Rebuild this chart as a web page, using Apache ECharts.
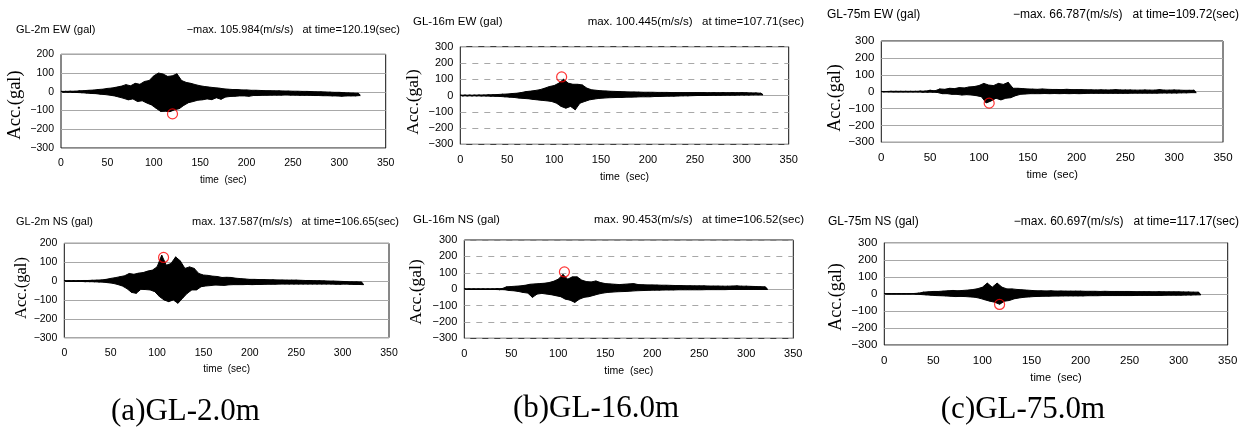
<!DOCTYPE html>
<html>
<head>
<meta charset="utf-8">
<script src="https://cdn.jsdelivr.net/npm/echarts@6/dist/echarts.min.js"></script>
<style>html,body{margin:0;padding:0;background:#fff}#c{width:1248px;height:430px}</style>
</head>
<body>
<div id="c"></div>
<script>
// time bins (sec)
var TIMES = [0,5,10,15,20,25,30,35,40,45,50,55,60,65,70,75,80,85,90,95,100,105,110,115,120,125,130,135,140,145,150,155,160,165,170,175,180,185,190,195,200,205,210,215,220,225,230,235,240,245,250,255,260,265,270,275,280,285,290,295,300,305,310,315,320];
var X_TICKS = [0,50,100,150,200,250,300,350];
var Y_TICKS_A = [-300,-200,-100,0,100,200];
var Y_TICKS_BC = [-300,-200,-100,0,100,200,300];

// envelope (upper / lower, gal) read from the records
var aEW_up = [2,2,3,3,5,6,8,9,12,14,18,20,25,30,38,32,45,40,55,60,85,100,95,82,85,96,60,50,45,38,32,28,25,22,20,16,14,12,12,10,10,8,8,7,6,6,5,5,4,4,3,3,2,2,1,0,0,-1,-2,-3,-3,-5,-6,-7,-8];
var aEW_lo = [-2,-2,-3,-4,-5,-7,-9,-10,-13,-15,-18,-22,-28,-35,-43,-38,-52,-48,-60,-70,-88,-105,-104,-106,-96,-90,-72,-58,-52,-45,-43,-38,-42,-32,-40,-28,-25,-24,-22,-22,-24,-20,-20,-19,-19,-18,-18,-18,-17,-18,-18,-19,-19,-19,-20,-20,-21,-21,-22,-22,-24,-22,-22,-22,-20];
var aNS_up = [2,2,2,2,3,3,4,5,6,9,14,18,23,28,40,36,42,45,53,58,75,137,84,93,128,107,67,75,67,40,32,30,26,24,19,20,19,15,13,11,9,9,8,8,7,7,6,6,5,5,5,4,3,3,2,2,1,0,0,-1,-2,-3,-4,-4,-5];
var aNS_lo = [-2,-2,-2,-2,-3,-3,-4,-5,-6,-9,-12,-18,-26,-40,-60,-65,-44,-45,-47,-56,-82,-100,-109,-100,-118,-91,-65,-47,-47,-30,-26,-24,-21,-22,-23,-20,-19,-19,-19,-18,-19,-18,-18,-17,-17,-17,-16,-16,-16,-16,-16,-16,-16,-16,-16,-16,-16,-16,-17,-17,-16,-17,-18,-18,-19];
var bEW_up = [2,2,2,2,3,3,4,5,6,8,9,12,14,18,24,27,31,36,45,55,61,76,100,76,69,69,65,45,35,32,29,28,26,25,24,23,22,22,21,20,20,20,19,19,19,18,18,18,18,18,18,18,18,17,18,17,18,17,18,17,18,17,16,16,14];
var bEW_lo = [-2,-2,-2,-2,-3,-3,-4,-5,-6,-8,-10,-12,-16,-18,-20,-24,-27,-30,-33,-37,-47,-67,-78,-67,-88,-47,-37,-27,-22,-18,-16,-14,-13,-12,-12,-10,-10,-9,-8,-8,-8,-6,-6,-5,-4,-4,-3,-2,-2,-1,0,0,0,1,1,1,2,2,2,3,3,3,4,4,4];
var bNS_up = [2,2,2,2,2,2,2,3,3,14,16,18,20,24,30,32,34,36,40,48,61,90,61,75,75,55,46,44,50,40,34,32,30,28,30,32,34,28,27,26,26,25,24,24,23,22,22,21,21,20,20,20,19,19,19,18,18,19,20,18,18,17,16,15,14];
var bNS_lo = [-2,-2,-2,-2,-2,-2,-2,-3,-3,-8,-10,-14,-20,-24,-50,-30,-26,-30,-34,-40,-46,-61,-67,-81,-61,-50,-46,-38,-30,-24,-20,-18,-16,-15,-14,-12,-10,-9,-8,-7,-6,-6,-5,-5,-5,-4,-4,-4,-4,-4,-4,-3,-3,-3,-3,-3,-2,-2,-2,-2,-2,-2,-2,-2,-2];
var cEW_up = [1,1,2,2,2,2,2,2,3,3,8,5,16,14,20,18,24,22,28,30,36,49,39,36,49,43,55,20,20,18,16,15,14,16,14,13,13,12,14,12,12,12,11,11,10,11,10,10,12,10,10,10,9,9,10,9,9,12,9,9,10,9,8,8,8];
var cEW_lo = [-1,-1,-2,-2,-2,-2,-2,-2,-3,-3,-3,-5,-12,-12,-16,-16,-20,-18,-20,-24,-30,-67,-55,-39,-49,-39,-36,-24,-16,-14,-12,-12,-12,-11,-12,-11,-12,-11,-12,-11,-12,-11,-10,-10,-10,-10,-10,-10,-10,-10,-10,-9,-9,-9,-9,-9,-9,-8,-8,-8,-8,-7,-7,-6,-6];
var cNS_up = [1,1,1,1,1,1,2,4,10,12,14,14,16,18,20,18,20,22,25,30,39,63,39,63,39,29,29,26,24,22,20,18,18,17,18,16,17,16,16,16,16,15,15,15,14,15,14,14,14,14,14,13,13,13,13,12,13,12,12,12,12,11,11,10,10];
var cNS_lo = [-1,-1,-1,-1,-1,-1,-2,-4,-6,-8,-10,-11,-12,-14,-16,-15,-16,-18,-20,-26,-35,-43,-49,-61,-43,-39,-29,-24,-20,-18,-16,-15,-14,-14,-13,-13,-12,-12,-12,-12,-12,-11,-11,-11,-10,-10,-10,-10,-10,-10,-10,-9,-9,-9,-9,-9,-9,-8,-8,-8,-8,-7,-7,-6,-6];

// circled peaks [time, value] as drawn
var aEW_peak = [120.19, -118];
var aNS_peak = [107.0, 125];
var bEW_peak = [108.0, 114];
var bNS_peak = [106.5, 105];
var cEW_peak = [110.5, -68];
var cNS_peak = [117.5, -62];

var TITLES = ['GL-2m EW (gal)','GL-2m NS (gal)','GL-16m EW (gal)','GL-16m NS (gal)','GL-75m EW (gal)','GL-75m NS (gal)'];
var MAXTEXT = ['\u2212max. 105.984(m/s/s)   at time=120.19(sec)','max. 137.587(m/s/s)   at time=106.65(sec)',
  'max. 100.445(m/s/s)   at time=107.71(sec)','max. 90.453(m/s/s)   at time=106.52(sec)',
  '\u2212max. 66.787(m/s/s)   at time=109.72(sec)','\u2212max. 60.697(m/s/s)   at time=117.17(sec)'];
var CAPTIONS = ['(a)GL-2.0m','(b)GL-16.0m','(c)GL-75.0m'];

var panels = [
  {up:aEW_up, lo:aEW_lo, pk:aEW_peak, ymax:200, dash:false, g:{left:61, top:54.3, width:324.7, height:93.7}, fs:11, tx:16, ty:30, rx:400, ylx:15.5, yly:105, ylf:18.5},
  {up:aNS_up, lo:aNS_lo, pk:aNS_peak, ymax:200, dash:false, g:{left:64.3, top:243.3, width:324.7, height:94.4}, fs:11, tx:16, ty:222, rx:399, ylx:21.5, yly:288, ylf:16.5},
  {up:bEW_up, lo:bEW_lo, pk:bEW_peak, ymax:300, dash:true, g:{left:460.3, top:46.7, width:328.4, height:97.6}, fs:11.5, tx:413, ty:22, rx:804, ylx:413, yly:102, ylf:17.5},
  {up:bNS_up, lo:bNS_lo, pk:bNS_peak, ymax:300, dash:true, g:{left:464.3, top:240, width:329, height:98.3}, fs:11.5, tx:413, ty:220, rx:804, ylx:416, yly:292, ylf:17.5},
  {up:cEW_up, lo:cEW_lo, pk:cEW_peak, ymax:300, dash:false, g:{left:881.3, top:41, width:341.7, height:101.3}, fs:12, tx:827, ty:15, rx:1239, ylx:835, yly:98, ylf:18},
  {up:cNS_up, lo:cNS_lo, pk:cNS_peak, ymax:300, dash:false, g:{left:884.3, top:242.7, width:343.4, height:102.3}, fs:12, tx:828, ty:222, rx:1239, ylx:836, yly:297, ylf:18}
];

function zig(up, lo){
  var d = [];
  for (var i = 0; i < TIMES.length; i++){
    d.push([TIMES[i], up[i]]);
    d.push([TIMES[i] + 2.5, lo[i]]);
  }
  return d;
}
function bandRenderer(up, lo){
  return function(params, api){
    var pts = [];
    for (var i = 0; i < TIMES.length; i++) pts.push(api.coord([TIMES[i], up[i]]));
    for (var j = TIMES.length - 1; j >= 0; j--) pts.push(api.coord([TIMES[j] + 2.5, lo[j]]));
    return {type:'polygon', shape:{points:pts}, style:{fill:'#000', stroke:'#000', lineWidth:1}};
  };
}
function minus(v){ return String(v).replace('-', '\u2212'); }

var grids = [], xAxes = [], yAxes = [], series = [], graphics = [];
panels.forEach(function(p, i){
  grids.push({left:p.g.left, top:p.g.top, width:p.g.width, height:p.g.height, show:true, borderColor:'#111', borderWidth:1, backgroundColor:'transparent', containLabel:false});
  xAxes.push({gridIndex:i, type:'value', min:X_TICKS[0], max:X_TICKS[X_TICKS.length-1], interval:X_TICKS[1]-X_TICKS[0],
    axisLine:{show:false, onZero:false}, axisTick:{show:false}, splitLine:{show:false},
    axisLabel:{color:'#000', fontSize:p.fs-0.5, fontFamily:'Liberation Sans', margin:10},
    name:'time  (sec)', nameLocation:'middle', nameGap:27, nameTextStyle:{color:'#000', fontSize:p.fs-1, fontFamily:'Liberation Sans'}});
  var yt = p.ymax === 200 ? Y_TICKS_A : Y_TICKS_BC;
  yAxes.push({gridIndex:i, type:'value', min:yt[0], max:yt[yt.length-1], interval:yt[1]-yt[0],
    axisLine:{show:false}, axisTick:{show:false},
    splitLine:{show:true, lineStyle:{color:'#a8a8a8', width:1, type:p.dash ? [6,6] : 'solid'}},
    axisLabel:{color:'#000', fontSize:p.fs-0.5, fontFamily:'Liberation Sans', margin:7, formatter:minus}});
  var band = {type:'custom', xAxisIndex:i, yAxisIndex:i, data:[[0,0]], renderItem:bandRenderer(p.up, p.lo), silent:true, animation:false, z:3, clip:true};
  if (p.dash){
    band.markLine = {silent:true, symbol:'none', label:{show:false}, lineStyle:{color:'#a8a8a8', type:'solid', width:1}, data:[{yAxis:0}], animation:false, z:1};
  }
  series.push(band);
  series.push({type:'line', xAxisIndex:i, yAxisIndex:i, data:zig(p.up, p.lo), showSymbol:false, symbol:'none',
    lineStyle:{color:'#000', width:1.2}, silent:true, animation:false, z:4});
  series.push({type:'scatter', xAxisIndex:i, yAxisIndex:i, data:[p.pk], symbol:'circle', symbolSize:10,
    itemStyle:{color:'rgba(0,0,0,0)', borderColor:'#ff0000', borderWidth:1.2}, silent:true, animation:false, z:5});
  graphics.push({type:'text', x:p.tx, y:p.ty, style:{text:TITLES[i], font:p.fs+'px "Liberation Sans"', fill:'#000', align:'left', verticalAlign:'middle'}});
  graphics.push({type:'text', x:p.rx, y:p.ty, style:{text:MAXTEXT[i], font:p.fs+'px "Liberation Sans"', fill:'#000', align:'right', verticalAlign:'middle'}});
  graphics.push({type:'text', x:p.ylx, y:p.yly, rotation:Math.PI/2, style:{text:'Acc.(gal)', font:p.ylf+'px "Liberation Serif"', fill:'#000', align:'center', verticalAlign:'middle'}});
});
var capPos = [[185.5,412],[596,409],[1023,410]];
CAPTIONS.forEach(function(t, i){
  graphics.push({type:'text', x:capPos[i][0], y:capPos[i][1], style:{text:t, font:'31px "Liberation Serif"', fill:'#000', align:'center', verticalAlign:'middle'}});
});

var chart = echarts.init(document.getElementById('c'), null, {renderer:'canvas'});
chart.setOption({animation:false, grid:grids, xAxis:xAxes, yAxis:yAxes, series:series, graphic:graphics});
</script>
</body>
</html>
